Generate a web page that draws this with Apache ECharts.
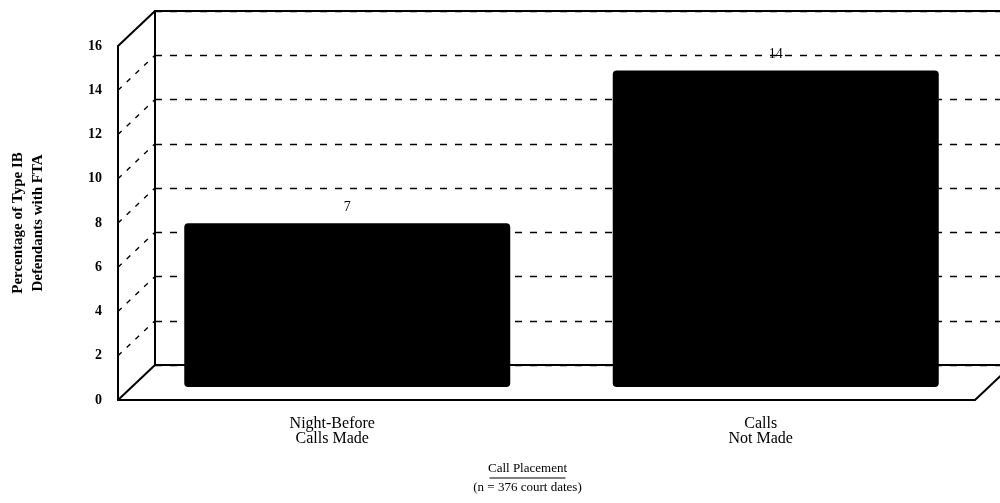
<!DOCTYPE html>
<html>
<head>
<meta charset="utf-8">
<script src="https://cdn.jsdelivr.net/npm/echarts@6/dist/echarts.min.js"></script>
<style>
  html, body { margin: 0; padding: 0; background: #fff; }
  #chart { width: 1000px; height: 503px; }
</style>
</head>
<body>
<div id="chart"></div>
<script>
// data
const categories = ['Night-Before\nCalls Made', 'Calls\nNot Made']
const ftaPercent = [7.4, 14.3]
const yTicks = [0, 2, 4, 6, 8, 10, 12, 14, 16]
const yTitle = 'Percentage of Type IB\nDefendants with FTA'
const xTitle = 'Call Placement'
const xSubtitle = '(n = 376 court dates)'

const FONT = 'Liberation Serif'
// offset of the back wall against the front plane
const DX = 37
const DY = 35

const chart = echarts.init(document.getElementById('chart'))

// side wall diagonals + right floor edge
function renderDepth(params, api) {
  const v = api.value(1)
  const cs = params.coordSys
  const y = api.coord([0, v])[1]
  const edge = v === yTicks[0] || v === yTicks[yTicks.length - 1]
  const style = { stroke: '#000', lineWidth: edge ? 2 : 1.4, lineDash: edge ? null : [5, 7] }
  const children = [{ type: 'line', shape: { x1: cs.x, y1: y, x2: cs.x + DX, y2: y - DY }, style }]
  if (v === yTicks[0]) {
    children.push({ type: 'line', shape: { x1: cs.x + cs.width, y1: y, x2: cs.x + cs.width + DX, y2: y - DY }, style })
  }
  return { type: 'group', children }
}

chart.setOption({
  animation: false,
  textStyle: { fontFamily: FONT, color: '#000' },
  grid: [
    // front plane
    { left: 118, top: 46, right: 25, bottom: 103, outerBoundsMode: 'none', containLabel: false },
    // back wall
    { left: 118 + DX, top: 46 - DY, right: -60, bottom: 103 + DY, outerBoundsMode: 'none', containLabel: false },
    // bars, half way in
    { left: 133, top: 33, right: 10, bottom: 116, outerBoundsMode: 'none', containLabel: false }
  ],
  xAxis: [
    {
      gridIndex: 0,
      type: 'category',
      data: categories,
      axisLine: { lineStyle: { color: '#000', width: 2 } },
      axisTick: { show: false },
      axisLabel: { color: '#000', fontFamily: FONT, fontSize: 16, lineHeight: 15, margin: 16 },
      name: '{t|' + xTitle + '}\n{u| }\n{s|' + xSubtitle + '}',
      nameLocation: 'middle',
      nameGap: 62,
      nameTextStyle: {
        padding: [0, 38, 0, 0],
        rich: {
          t: { fontFamily: FONT, fontSize: 13, lineHeight: 14, color: '#000' },
          u: { width: 76, height: 1, lineHeight: 4, fontSize: 1, backgroundColor: '#000' },
          s: { fontFamily: FONT, fontSize: 13, lineHeight: 15, color: '#000' }
        }
      }
    },
    {
      gridIndex: 1,
      type: 'category',
      data: categories,
      axisLine: { lineStyle: { color: '#000', width: 2 } },
      axisTick: { show: false },
      axisLabel: { show: false }
    },
    {
      gridIndex: 1,
      type: 'category',
      position: 'top',
      data: categories,
      axisLine: { lineStyle: { color: '#000', width: 2 } },
      axisTick: { show: false },
      axisLabel: { show: false }
    },
    { gridIndex: 2, type: 'category', data: categories, show: false }
  ],
  yAxis: [
    {
      gridIndex: 0,
      type: 'value',
      min: 0,
      max: 16,
      interval: 2,
      axisLine: { show: true, lineStyle: { color: '#000', width: 2 } },
      axisTick: { show: false },
      splitLine: { show: false },
      axisLabel: { color: '#000', fontFamily: FONT, fontSize: 14, fontWeight: 'bold', margin: 16 },
      name: yTitle,
      nameLocation: 'middle',
      nameRotate: 90,
      nameGap: 70,
      nameTextStyle: { fontFamily: FONT, fontSize: 15, fontWeight: 'bold', lineHeight: 20, color: '#000' }
    },
    {
      gridIndex: 1,
      type: 'value',
      min: 0,
      max: 16,
      interval: 2,
      axisLine: { show: true, lineStyle: { color: '#000', width: 2 } },
      axisTick: { show: false },
      axisLabel: { show: false },
      splitLine: { lineStyle: { color: '#000', width: 1.4, type: [7, 8] } }
    },
    { gridIndex: 2, type: 'value', min: 0, max: 16, show: false }
  ],
  series: [
    {
      type: 'custom',
      xAxisIndex: 0,
      yAxisIndex: 0,
      renderItem: renderDepth,
      data: yTicks.map(v => [0, v]),
      silent: true,
      z: 3
    },
    {
      type: 'bar',
      xAxisIndex: 3,
      yAxisIndex: 2,
      data: ftaPercent,
      barWidth: 326,
      itemStyle: { color: '#000', borderRadius: 4 },
      label: {
        show: true,
        position: 'top',
        distance: 9,
        color: '#000',
        fontFamily: FONT,
        fontSize: 14,
        formatter: p => Math.round(p.value)
      },
      z: 5
    }
  ]
})
</script>
</body>
</html>
